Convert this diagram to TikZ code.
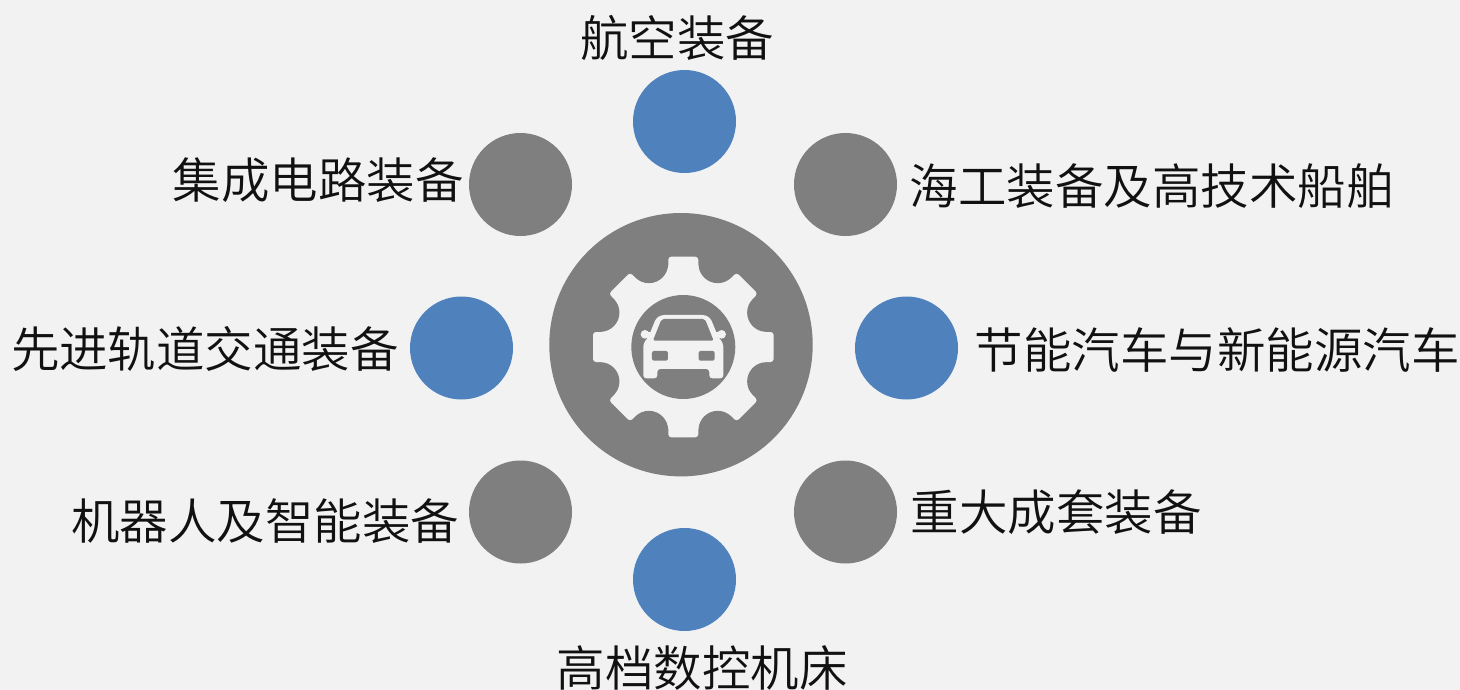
\documentclass[tikz,border=0pt]{standalone}
\usepackage{fontspec}
\newfontfamily\cjk[UprightFont=* DemiLight]{Noto Sans CJK SC}
\definecolor{bgc}{HTML}{F2F2F2}
\definecolor{grayc}{HTML}{7F7F7F}
\definecolor{bluec}{HTML}{4F81BD}
\definecolor{txtc}{HTML}{111111}
\tikzset{
  dot/.style={circle,minimum size=103pt,inner sep=0pt,draw=none},
  bluedot/.style={dot,fill=bluec},
  graydot/.style={dot,fill=grayc},
  lab/.style={inner sep=0pt,text=txtc,font=\cjk\fontsize{48.5}{48.5}\selectfont},
}
\begin{document}
\begin{tikzpicture}[x=1pt,y=-1pt]
\useasboundingbox (0,0) rectangle (1460,690);
\clip (0,0) rectangle (1460,690);
\fill[bgc] (0,0) rectangle (1460,690);
% satellite dots
\node[bluedot] (n1) at (684.5,121.5) {};
\node[graydot] (n2) at (845.5,184.5) {};
\node[bluedot] (n3) at (906.5,348) {};
\node[graydot] (n4) at (845.5,512) {};
\node[bluedot] (n5) at (684.5,579.5) {};
\node[graydot] (n6) at (520.5,512) {};
\node[bluedot] (n7) at (461.5,348) {};
\node[graydot] (n8) at (520.5,184.5) {};
% hub
\node[circle,fill=grayc,minimum size=263.4pt,inner sep=0pt] (hub) at (681,344.7) {};
\begin{scope}[shift={(683.3,347)}]
  \fill[bgc] (0,0) circle[radius=83];
  \foreach \a in {22.5,67.5,...,337.5} \fill[grayc] (\a:90) circle[radius=19.3];
  \foreach \a in {0,45,...,315}
    \fill[bgc,rotate=\a,rounded corners=3pt] (55,-15) rectangle (90.3,15);
  \fill[grayc] (0,0) circle[radius=52];
\end{scope}
% car
\begin{scope}[shift={(683.3,295)},x=0.3333pt,y=-0.3333pt]
  \fill[bgc,rounded corners=3pt]
    (-66,60) -- (66,60) -- (82,70) -- (104,124) -- (120,146) -- (120,250) -- (78,250)
    -- (78,222) -- (-78,222) -- (-78,250) -- (-120,250) -- (-120,146) -- (-104,124) -- (-82,70) -- cycle;
  \fill[bgc] (-115,118) circle[radius=13];
  \fill[bgc] (115,118) circle[radius=13];
  \fill[bgc] (-120,112) rectangle (-96,129);
  \fill[bgc] (120,112) rectangle (96,129);
  \fill[grayc,rounded corners=2pt]
    (-65,72) -- (65,72) -- (91,137) -- (-91,137) -- cycle;
  \fill[grayc,rounded corners=2pt] (-94,168) rectangle (-46,197);
  \fill[grayc,rounded corners=2pt] (46,168) rectangle (94,197);
\end{scope}
% labels
\node[lab] (t1) at (677,38) {航空装备};
\node[lab] (t2) at (1152,186) {海工装备及高技术船舶};
\node[lab] (t3) at (1217,350) {节能汽车与新能源汽车};
\node[lab] (t4) at (1056,512) {重大成套装备};
\node[lab] (t5) at (702,668) {高档数控机床};
\node[lab] (t6) at (265,521) {机器人及智能装备};
\node[lab] (t7) at (205,349) {先进轨道交通装备};
\node[lab] (t8) at (318,180) {集成电路装备};
\end{tikzpicture}
\end{document}
